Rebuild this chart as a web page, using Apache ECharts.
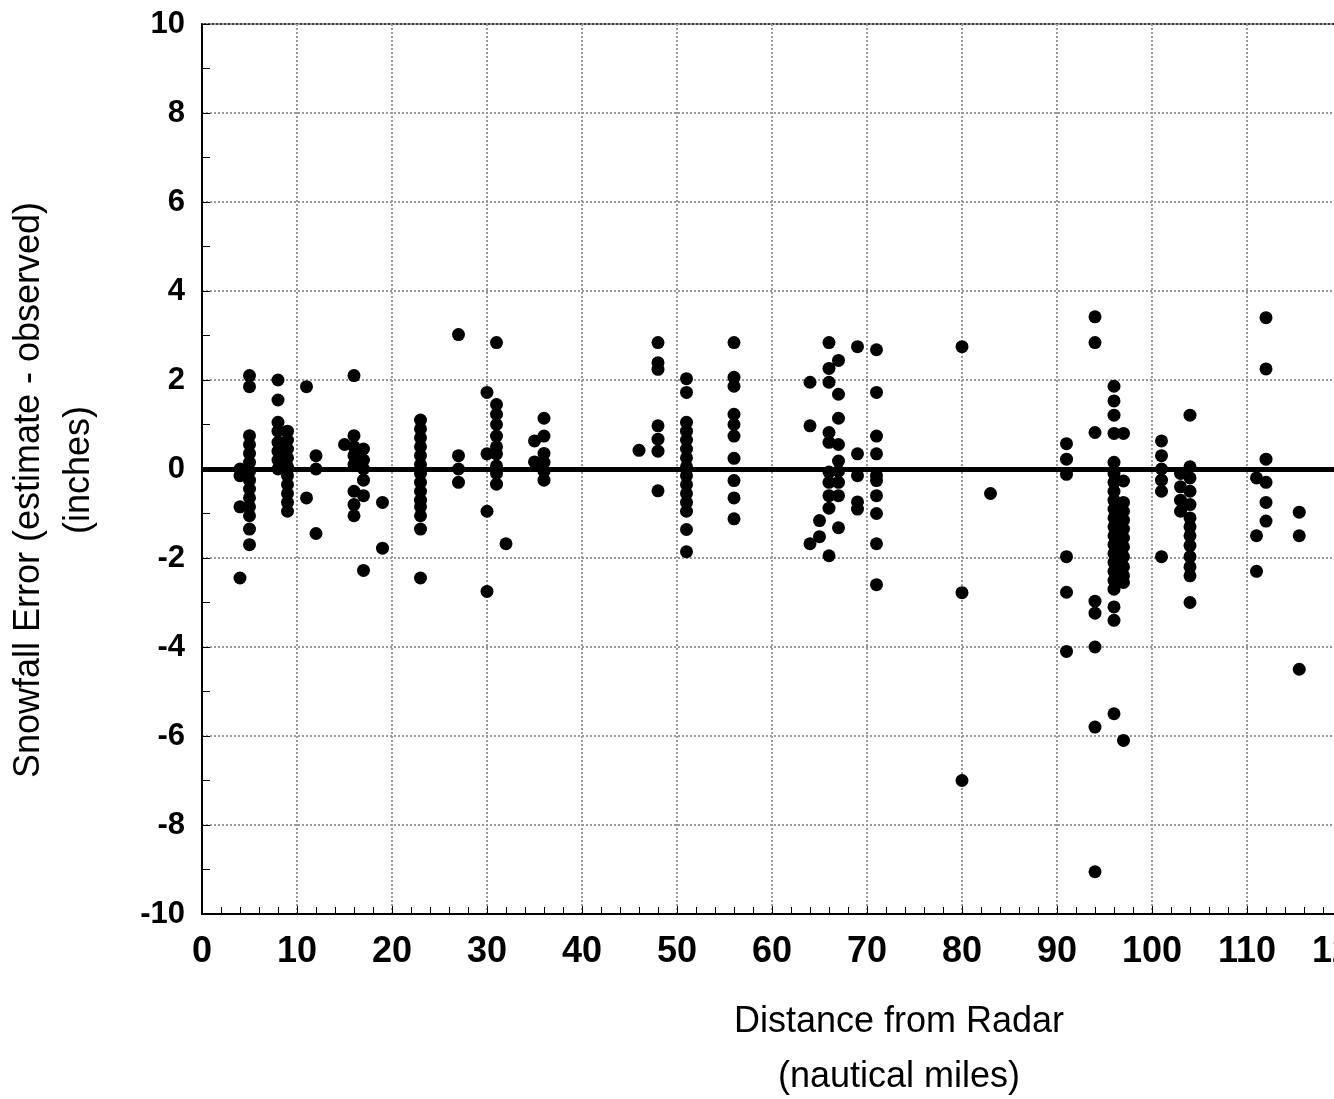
<!DOCTYPE html>
<html>
<head>
<meta charset="utf-8">
<script src="https://cdn.jsdelivr.net/npm/echarts@6/dist/echarts.min.js"></script>
<style>
html,body{margin:0;padding:0;background:#fff;overflow:hidden;}
#chart{width:1334px;height:1099px;}
</style>
</head>
<body>
<div id="chart"></div>
<script>
// Distance from radar (nautical miles) for each column of observations
const distances = [4, 5, 8, 9, 11, 12, 15, 16, 17, 19, 23, 27, 30, 31, 32, 35, 36,
  46, 48, 51, 56, 64, 65, 66, 67, 69, 71, 80, 83, 91, 94, 96, 97, 101, 103, 104, 111, 112, 115.5];
// Snowfall error (inches) observed at each distance, same order as distances
const errors = [
  [0, -0.15, -0.85, -2.45],
  [2.1, 1.85, 0.75, 0.55, 0.35, 0.15, -0.05, -0.25, -0.45, -0.65, -0.85, -1.05, -1.35, -1.7],
  [2.0, 1.55, 1.05, 0.85, 0.6, 0.4, 0.2, 0.0],
  [0.85, 0.65, 0.45, 0.25, 0.05, -0.15, -0.35, -0.55, -0.75, -0.95],
  [1.85, -0.65],
  [0.3, 0.0, -1.45],
  [0.55],
  [2.1, 0.75, 0.5, 0.3, 0.1, -0.5, -0.8, -1.05],
  [0.45, 0.2, 0.0, -0.25, -0.6, -2.28],
  [-0.75, -1.78],
  [1.1, 0.9, 0.7, 0.5, 0.3, 0.1, -0.1, -0.3, -0.5, -0.7, -0.85, -1.05, -1.35, -2.45],
  [3.02, 0.3, 0.0, -0.3],
  [1.72, 0.34, -0.95, -2.75],
  [2.84, 1.45, 1.23, 1.0, 0.74, 0.5, 0.34, 0.07, -0.1, -0.34],
  [-1.68],
  [0.63, 0.16],
  [1.14, 0.74, 0.35, 0.15, -0.05, -0.25],
  [0.42],
  [2.84, 2.39, 2.24, 0.97, 0.67, 0.4, -0.49],
  [2.03, 1.72, 1.05, 0.85, 0.65, 0.45, 0.25, 0.05, -0.15, -0.35, -0.55, -0.75, -0.95, -1.36, -1.86],
  [2.84, 2.06, 1.86, 1.23, 1.0, 0.74, 0.24, -0.26, -0.65, -1.12],
  [1.95, 0.97, -1.68],
  [-1.16, -1.52],
  [2.84, 2.26, 1.95, 0.82, 0.6, -0.07, -0.3, -0.6, -0.88, -1.95],
  [2.44, 1.68, 1.14, 0.55, 0.18, -0.05, -0.3, -0.6, -1.32],
  [2.75, 0.34, -0.15, -0.74, -0.9],
  [2.68, 1.72, 0.74, 0.34, -0.15, -0.26, -0.6, -1.0, -1.68, -2.6],
  [2.75, -2.78, -7.0],
  [-0.55],
  [0.57, 0.22, -0.12, -1.97, -2.77, -4.1],
  [3.42, 2.84, 0.82, -2.97, -3.24, -4.0, -5.8, -9.05],
  [1.86, 1.53, 1.21, 0.8, 0.15, -0.1, -0.3, -0.5, -0.7, -0.9, -1.1, -1.3, -1.5, -1.7, -1.9, -2.1, -2.3, -2.5, -2.7, -3.1, -3.4, -5.5],
  [0.8, -0.27, -0.75, -0.95, -1.15, -1.35, -1.55, -1.75, -1.97, -2.2, -2.4, -2.55, -6.1],
  [0.63, 0.3, 0.0, -0.25, -0.5, -1.97],
  [-0.1, -0.4, -0.7, -0.95],
  [1.21, 0.05, -0.2, -0.5, -0.8, -1.1, -1.3, -1.5, -1.72, -1.97, -2.2, -2.4, -3.0],
  [-0.2, -1.5, -2.3],
  [3.4, 2.25, 0.22, -0.3, -0.75, -1.17],
  [-0.97, -1.5, -4.5]
];
const yTitle = ['Snowfall Error (estimate - observed)', '(inches)'];
const xTitle = ['Distance from Radar', '(nautical miles)'];

const points = [];
distances.forEach((d, i) => errors[i].forEach(e => points.push([d, e])));

const chart = echarts.init(document.getElementById('chart'), null, {renderer: 'canvas'});
const gridLine = {show: true, lineStyle: {color: '#9a9a9a', type: [2, 2], width: 2}};
const titleFont = '36px "Liberation Sans", Arial, sans-serif';
chart.setOption({
  animation: false,
  backgroundColor: '#fff',
  grid: {left: 202, top: 24, width: 1140, height: 890, outerBoundsMode: 'none', containLabel: false,
         show: true, borderColor: '#000', borderWidth: 1.5, backgroundColor: 'transparent'},
  xAxis: {
    type: 'value', min: 0, max: 120, interval: 10,
    axisLine: {show: true, onZero: false, lineStyle: {color: '#000', width: 2}},
    axisTick: {show: true, inside: true, length: 8, lineStyle: {color: '#000'}},
    minorTick: {show: true, splitNumber: 5, length: 7, lineStyle: {color: '#000'}},
    splitLine: gridLine,
    axisLabel: {color: '#000', fontFamily: 'Liberation Sans, Arial, sans-serif', fontWeight: 'bold', fontSize: 36, margin: 20, showMaxLabel: true, hideOverlap: false}
  },
  yAxis: {
    type: 'value', min: -10, max: 10, interval: 2,
    axisLine: {show: true, onZero: false, lineStyle: {color: '#000', width: 2}},
    axisTick: {show: true, inside: true, length: 8, lineStyle: {color: '#000'}},
    minorTick: {show: true, splitNumber: 2, length: 8, lineStyle: {color: '#000'}},
    splitLine: gridLine,
    axisLabel: {color: '#000', fontFamily: 'Liberation Sans, Arial, sans-serif', fontWeight: 'bold', fontSize: 31, margin: 17}
  },
  series: [{
    type: 'scatter',
    data: points,
    symbol: 'circle',
    symbolSize: 13,
    itemStyle: {color: '#000', opacity: 1},
    markLine: {
      silent: true, symbol: ['none', 'none'],
      label: {show: false},
      lineStyle: {color: '#000', width: 5, type: 'solid'},
      data: [{yAxis: 0}]
    }
  }],
  graphic: [
    {type: 'text', x: 29, y: 490, rotation: Math.PI / 2,
     style: {text: yTitle[0], font: titleFont, fill: '#000', textAlign: 'center', textVerticalAlign: 'middle'}},
    {type: 'text', x: 79, y: 470, rotation: Math.PI / 2,
     style: {text: yTitle[1], font: titleFont, fill: '#000', textAlign: 'center', textVerticalAlign: 'middle'}},
    {type: 'text', x: 899, y: 1022,
     style: {text: xTitle[0], font: titleFont, fill: '#000', textAlign: 'center', textVerticalAlign: 'middle'}},
    {type: 'text', x: 899, y: 1077,
     style: {text: xTitle[1], font: titleFont, fill: '#000', textAlign: 'center', textVerticalAlign: 'middle'}}
  ]
});
</script>
</body>
</html>
